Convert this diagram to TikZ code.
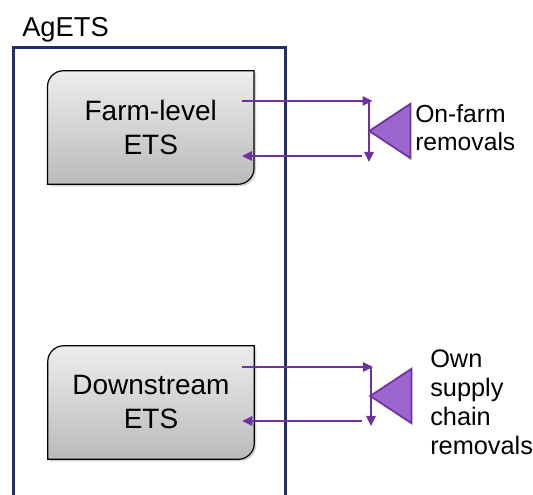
\documentclass[tikz,border=0pt]{standalone}
\usepackage{fontspec}
\setmainfont{Liberation Sans}
\usetikzlibrary{
    arrows.meta,
    shapes.geometric,
    shadows,
    calc,
    positioning
}
\definecolor{agnavy}{RGB}{32,46,112}
\definecolor{rmpurple}{RGB}{112,48,160}
\definecolor{rmfill}{RGB}{155,102,206}
\pgfdeclarelayer{background}
\pgfsetlayers{background,main}
\tikzset{etsb/.style={minimum width=154.5pt, minimum height=84.75pt, align=center, inner sep=0pt, font=\fontsize{21}{25.5}\selectfont}}
\tikzset{etss/.style={draw=black, line width=0.9pt, top color=black!7, bottom color=black!27, drop shadow={shadow xshift=1.5pt, shadow yshift=-1.5pt, opacity=0.35}}}
\tikzset{flw/.style={draw=rmpurple, line width=1.3pt, -{Triangle[length=7.5pt, width=7pt]}}}
\tikzset{remv/.style={isosceles triangle, isosceles triangle stretches, shape border rotate=180, minimum width=41pt, minimum height=31pt, inner sep=0pt, draw=rmpurple, line width=1.3pt, fill=rmfill}}
\tikzset{remt/.style={align=left, inner sep=0pt, anchor=north west}}
\newcommand{\etsshape}[1]{%
    \begin{pgfonlayer}{background}
    \path[etss] (#1.west) [rounded corners=12pt] |- (#1.north) [sharp corners] -| (#1.east)
        [rounded corners=12pt] |- (#1.south) [sharp corners] -| (#1.west) -- cycle;
    \end{pgfonlayer}}

\begin{document}
\begin{tikzpicture}[x=0.75pt, y=-0.75pt]
                        \useasboundingbox (0,0) rectangle (533,495);
                        \clip (0,0) rectangle (533,495);

                        \draw[draw=agnavy, line width=2.25pt] (13,500) |- (285,47.5) -- (285,500);
                        \node[anchor=base west, inner sep=0pt, font=\fontsize{20.5}{24}\selectfont] (ag) at (22,36.7) {AgETS};

                        \node[etsb] (farm) at (150.75,127.5) {Farm-level\\ETS};
                        \node[etsb] (down) at (151,402.5) {Downstream\\ETS};
                        \etsshape{farm}
                        \etsshape{down}

                        \node[remv, anchor=apex] (onf) at (367,131) {};
                        \node[remv, anchor=apex] (own) at (368,396) {};
                        \node[remt, font=\fontsize{18.5}{21}\selectfont] (onft) at (415,104) {On-farm\\removals};
                        \node[remt, font=\fontsize{19}{21.75}\selectfont] (ownt) at (430,349.6) {Own\\supply\\chain\\removals};

                        \coordinate (ftip) at (372.5,101);
                        \coordinate (fv1) at (369,101);
                        \coordinate (fv2) at (369,162);
                        \coordinate (fret) at (362,156);
                        \coordinate (dtip) at (373,367);
                        \coordinate (dv1) at (371,367);
                        \coordinate (dv2) at (371,426);
                        \coordinate (dret) at (362,421);

                        \draw[flw] ($(farm.east)+(-12,-26.5)$) -- (ftip);
                        \draw[flw] (fv1) -- (fv2);
                        \draw[flw] (fret) -- ($(farm.east)+(-12,28.5)$);
                        \draw[flw] ($(down.east)+(-12,-35.5)$) -- (dtip);
                        \draw[flw] (dv1) -- (dv2);
                        \draw[flw] (dret) -- ($(down.east)+(-12,18.5)$);
                    \end{tikzpicture}
\end{document}
